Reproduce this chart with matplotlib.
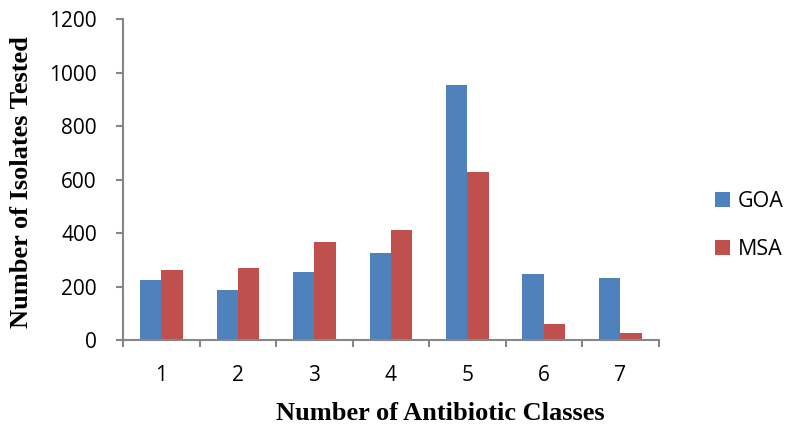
import numpy as np
from matplotlib import pyplot as plt

# valores
classes = ["1", "2", "3", "4", "5", "6", "7"]
goa = [223, 187, 255, 325, 953, 247, 231]
msa = [262, 268, 367, 411, 627, 60, 26]

cor_goa = "#4F81BD"
cor_msa = "#C0504D"
cinza = "#868686"

fig = plt.figure(figsize=(7.85, 4.28), dpi=100)
ax = fig.add_axes([0.157, 0.2056, 0.682, 0.75])

x = np.arange(len(classes))
w = 0.28
ax.bar(x - w/2, goa, w, color=cor_goa, label="GOA")
ax.bar(x + w/2, msa, w, color=cor_msa, label="MSA")

ax.set_xlim(-0.5, len(classes) - 0.5)
ax.set_ylim(0, 1200)
ax.set_yticks(range(0, 1201, 200))
ax.set_xticks(x)
ax.set_xticklabels(classes)
ax.set_xticks(np.arange(-0.5, len(classes)), minor=True)
ax.tick_params(axis="x", which="major", length=0, pad=18)
ax.tick_params(axis="x", which="minor", length=5, width=1.5, color=cinza, direction="out")
ax.tick_params(axis="y", length=5, width=1.5, color=cinza, direction="out", pad=14)

for s in ["top", "right"]:
    ax.spines[s].set_visible(False)
for s in ["left", "bottom"]:
    ax.spines[s].set_color(cinza)
    ax.spines[s].set_linewidth(1.5)

for lab in ax.get_xticklabels() + ax.get_yticklabels():
    lab.set_fontfamily("Open Sans")
    lab.set_fontsize(15)

# titulos dos eixos
fig.text(440/785, 0.019, "Number of Antibiotic Classes", family="Liberation Serif",
         fontweight="bold", fontsize=19, ha="center", va="baseline")
fig.text(22/785, 0.574, "Number of Isolates Tested", family="Liberation Serif",
         fontweight="bold", fontsize=19, ha="center", va="center", rotation=90)

leg = ax.legend(loc="center left", bbox_to_anchor=(715/785, 0.473),
                bbox_transform=fig.transFigure, frameon=False,
                prop={"family": "Open Sans", "size": 15.5}, handlelength=0.7,
                handleheight=0.7, labelspacing=1.25, handletextpad=0.35,
                borderpad=0, borderaxespad=0)

fig.savefig("out.png", dpi=100)
